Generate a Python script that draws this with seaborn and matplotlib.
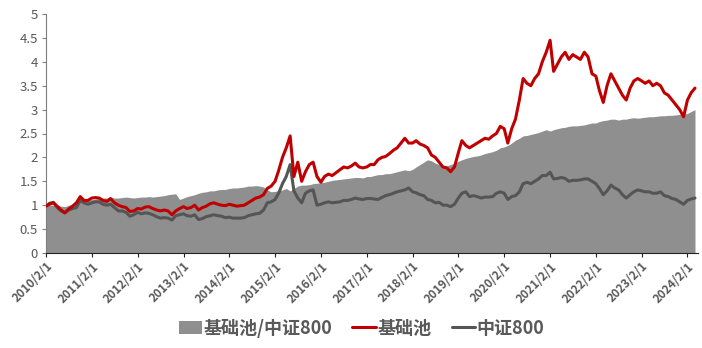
import numpy as np
import pandas as pd
import matplotlib
matplotlib.use("Agg")
import matplotlib.pyplot as plt
from matplotlib.patches import Patch
from matplotlib.lines import Line2D
import seaborn as sns

# ---- data (monthly readings, 2010/2 .. 2024/4) ----
start_month = "2010-02-01"

pool = [  # 基础池
    0.98, 1.02, 1.05, 0.98, 0.90, 0.84, 0.92, 0.98, 1.05, 1.18, 1.10,
    1.10, 1.15, 1.16, 1.15, 1.10, 1.08, 1.14, 1.05, 1.00, 0.97, 0.95, 0.87,
    0.88, 0.93, 0.92, 0.96, 0.97, 0.93, 0.90, 0.88, 0.90, 0.88, 0.80, 0.88,
    0.93, 0.97, 0.93, 0.95, 1.00, 0.90, 0.95, 0.98, 1.03, 1.05, 1.02, 1.00,
    0.99, 1.02, 1.00, 0.98, 0.99, 1.00, 1.05, 1.10, 1.15, 1.17, 1.22, 1.35,
    1.40, 1.50, 1.72, 2.00, 2.20, 2.45, 1.60, 1.90, 1.50, 1.70, 1.85, 1.90,
    1.60, 1.48, 1.60, 1.65, 1.62, 1.68, 1.74, 1.80, 1.78, 1.82, 1.88, 1.80,
    1.78, 1.80, 1.85, 1.85, 1.95, 2.00, 2.02, 2.08, 2.15, 2.20, 2.30, 2.40,
    2.30, 2.30, 2.35, 2.28, 2.25, 2.20, 2.05, 2.00, 1.90, 1.80, 1.78, 1.70,
    1.80, 2.10, 2.35, 2.25, 2.20, 2.25, 2.30, 2.35, 2.40, 2.38, 2.45, 2.50,
    2.65, 2.60, 2.30, 2.60, 2.80, 3.20, 3.65, 3.55, 3.50, 3.65, 3.75, 4.00,
    4.20, 4.45, 3.80, 3.95, 4.10, 4.20, 4.05, 4.15, 4.10, 4.05, 4.20, 4.10,
    3.75, 3.70, 3.40, 3.15, 3.50, 3.75, 3.60, 3.45, 3.30, 3.20, 3.45, 3.60,
    3.65, 3.60, 3.55, 3.60, 3.50, 3.55, 3.50, 3.35, 3.30, 3.20, 3.10, 3.00,
    2.85, 3.20, 3.35, 3.45,
]

csi800 = [  # 中证800
    0.98, 1.04, 1.06, 0.95, 0.88, 0.84, 0.90, 0.93, 0.95, 1.10, 1.05,
    1.02, 1.05, 1.07, 1.07, 1.02, 1.00, 1.02, 0.95, 0.88, 0.88, 0.85, 0.77,
    0.80, 0.85, 0.82, 0.84, 0.83, 0.80, 0.76, 0.73, 0.74, 0.73, 0.69, 0.78,
    0.80, 0.82, 0.78, 0.77, 0.80, 0.70, 0.72, 0.76, 0.78, 0.80, 0.78, 0.77,
    0.74, 0.75, 0.73, 0.73, 0.73, 0.74, 0.78, 0.80, 0.82, 0.83, 0.90, 1.05,
    1.07, 1.12, 1.25, 1.45, 1.60, 1.85, 1.30, 1.15, 1.05, 1.25, 1.30, 1.32,
    1.00, 1.02, 1.05, 1.07, 1.05, 1.06, 1.07, 1.10, 1.10, 1.12, 1.15, 1.13,
    1.12, 1.14, 1.14, 1.13, 1.12, 1.16, 1.20, 1.22, 1.25, 1.28, 1.30, 1.32,
    1.36, 1.28, 1.26, 1.22, 1.20, 1.12, 1.10, 1.05, 1.06, 1.00, 1.00, 0.97,
    1.02, 1.15, 1.25, 1.28, 1.18, 1.20, 1.18, 1.15, 1.17, 1.17, 1.18, 1.25,
    1.28, 1.25, 1.12, 1.18, 1.20, 1.28, 1.45, 1.48, 1.45, 1.50, 1.55, 1.62,
    1.62, 1.69, 1.55, 1.56, 1.58, 1.56, 1.50, 1.52, 1.52, 1.53, 1.55, 1.55,
    1.50, 1.45, 1.35, 1.22, 1.30, 1.42, 1.36, 1.32, 1.22, 1.15, 1.22, 1.28,
    1.32, 1.30, 1.28, 1.28, 1.25, 1.25, 1.28, 1.20, 1.18, 1.14, 1.12, 1.07,
    1.02, 1.10, 1.13, 1.15,
]

ratio = [  # 基础池/中证800
    0.98, 1.00, 1.00, 1.00, 0.98, 0.97, 1.00, 1.02, 1.05, 1.12, 1.12,
    1.10, 1.12, 1.13, 1.14, 1.15, 1.15, 1.16, 1.15, 1.15, 1.16, 1.17, 1.16,
    1.15, 1.16, 1.17, 1.17, 1.18, 1.17, 1.18, 1.19, 1.20, 1.22, 1.23, 1.24,
    1.12, 1.15, 1.18, 1.20, 1.22, 1.25, 1.27, 1.28, 1.30, 1.30, 1.32, 1.33,
    1.33, 1.35, 1.36, 1.36, 1.37, 1.38, 1.40, 1.40, 1.41, 1.40, 1.38, 1.32,
    1.28, 1.29, 1.30, 1.32, 1.35, 1.30, 1.35, 1.40, 1.42, 1.42, 1.43, 1.45,
    1.46, 1.47, 1.48, 1.50, 1.52, 1.53, 1.54, 1.55, 1.56, 1.57, 1.58, 1.58,
    1.57, 1.60, 1.60, 1.62, 1.64, 1.64, 1.66, 1.66, 1.68, 1.70, 1.72, 1.74,
    1.72, 1.75, 1.80, 1.85, 1.90, 1.95, 1.93, 1.88, 1.85, 1.82, 1.82, 1.85,
    1.88, 1.92, 1.95, 1.98, 2.00, 2.02, 2.03, 2.05, 2.08, 2.10, 2.12, 2.15,
    2.20, 2.22, 2.25, 2.30, 2.36, 2.40, 2.45, 2.46, 2.48, 2.50, 2.52, 2.55,
    2.58, 2.55, 2.58, 2.60, 2.62, 2.63, 2.65, 2.66, 2.66, 2.67, 2.68, 2.70,
    2.72, 2.72, 2.75, 2.77, 2.78, 2.80, 2.80, 2.78, 2.80, 2.80, 2.82, 2.83,
    2.82, 2.83, 2.84, 2.85, 2.85, 2.86, 2.87, 2.87, 2.88, 2.88, 2.89, 2.90,
    2.90, 2.92, 2.96, 3.00,
]

tick_labels = [f"{y}/2/1" for y in range(2010, 2025)]
legend_labels = ["基础池/中证800", "基础池", "中证800"]

dates = pd.date_range(start_month, periods=len(pool), freq="MS")
df = pd.DataFrame({"date": dates, "pool": pool, "csi800": csi800, "ratio": ratio})

sns.set_theme(style="white")
plt.rcParams["font.family"] = ["Noto Sans CJK SC", "DejaVu Sans"]

fig = plt.figure(figsize=(7.02, 3.48), dpi=100)
ax = fig.add_axes([46 / 702, 1 - 253 / 348, (698 - 46) / 702, (253 - 14) / 348])

area_c = "#8f8f8f"
red_c = "#c00000"
dark_c = "#555555"
txt_c = "#595959"

ax.fill_between(df["date"], 0, df["ratio"], color=area_c, linewidth=0, zorder=1)
sns.lineplot(data=df, x="date", y="pool", color=red_c, linewidth=2.2, ax=ax, zorder=3)
sns.lineplot(data=df, x="date", y="csi800", color=dark_c, linewidth=2.2, ax=ax, zorder=2)

ax.set_ylim(0, 5)
ax.set_yticks(np.arange(0, 5.01, 0.5))
ax.set_yticklabels([f"{v:g}" for v in np.arange(0, 5.01, 0.5)])
ax.set_xlim(pd.Timestamp("2010-02-01"), pd.Timestamp("2024-04-25"))
tick_dates = [pd.Timestamp(f"{y}-02-01") for y in range(2010, 2025)]
ax.set_xticks(tick_dates)
ax.set_xticklabels(tick_labels, rotation=45, ha="right", rotation_mode="anchor",
                   fontsize=8.5, fontweight="bold", color=txt_c)
ax.set_xlabel("")
ax.set_ylabel("")
for lbl in ax.get_yticklabels():
    lbl.set_color(txt_c)
    lbl.set_fontsize(9.5)

for s in ["top", "right"]:
    ax.spines[s].set_visible(False)
ax.spines["left"].set_color("#7f7f7f")
ax.spines["bottom"].set_color("#222222")
ax.spines["left"].set_linewidth(0.8)
ax.spines["bottom"].set_linewidth(0.8)
ax.tick_params(axis="y", which="both", left=True, length=3, width=0.8, color="#7f7f7f", pad=3)
ax.tick_params(axis="x", which="both", bottom=True, length=3, width=0.8, color="#222222", pad=2)
ax.grid(False)

handles = [
    Patch(facecolor=area_c, edgecolor="none"),
    Line2D([0], [0], color=red_c, linewidth=2.2),
    Line2D([0], [0], color=dark_c, linewidth=2.2),
]
leg = fig.legend(handles, legend_labels, loc="center", bbox_to_anchor=(0.515, 1 - 328 / 348),
                 ncol=3, frameon=False, prop={"size": 13, "weight": "bold"},
                 handlelength=1.3, handletextpad=0.1, columnspacing=1.1)
for t in leg.get_texts():
    t.set_color(txt_c)

fig.savefig("out.png", dpi=100)
